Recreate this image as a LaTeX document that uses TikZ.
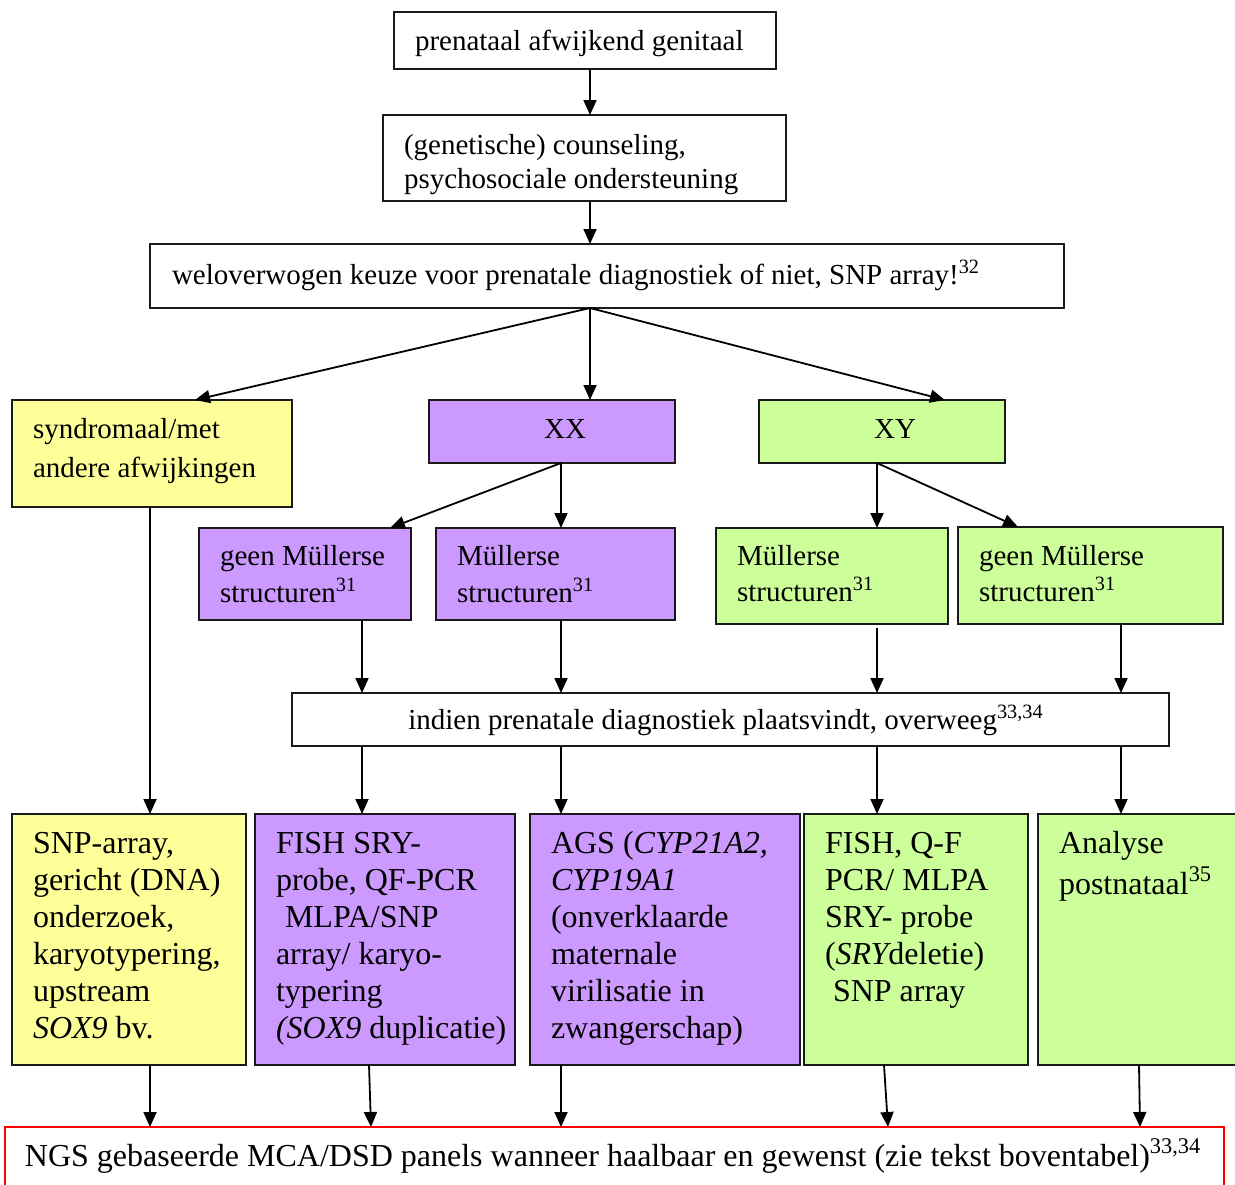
\documentclass[tikz,border=0pt]{standalone}
\usepackage{fontspec}
\setmainfont{Liberation Serif}
\usetikzlibrary{arrows.meta}
\definecolor{yel}{HTML}{FFFF99}
\definecolor{pur}{HTML}{CC99FF}
\definecolor{grn}{HTML}{CCFF99}
\definecolor{bord}{HTML}{1A1A1A}
\begin{document}
\begin{tikzpicture}[x=0.5pt,y=-0.5pt,
 box/.style={draw=bord,line width=1pt,anchor=north west,inner sep=0pt,outer sep=0pt},
 txt/.style={anchor=base west,inner sep=0pt,outer sep=0pt,font=\fontsize{14.5}{17}\selectfont},
 btxt/.style={anchor=base west,inner sep=0pt,outer sep=0pt,font=\fontsize{16}{18.5}\selectfont},
 arr/.style={line width=0.9pt,-{Triangle[length=7.5pt,width=6.5pt]}}]
\useasboundingbox (0,0) rectangle (1235,1184);
\fill[white] (0,0) rectangle (1235,1184);
\begin{scope}
\clip (0,0) rectangle (1235,1184);
% boxes
\node[box,minimum width=191pt,minimum height=28.5pt] (top) at (394,12) {};
\node[box,minimum width=201.5pt,minimum height=43pt] (couns) at (383,115) {};
\node[box,minimum width=457pt,minimum height=32pt] (wel) at (150,244) {};
\node[box,fill=yel,minimum width=140pt,minimum height=53.5pt] (synd) at (12,400) {};
\node[box,fill=pur,minimum width=123pt,minimum height=31.5pt] (xx) at (429,400) {};
\node[box,fill=grn,minimum width=123pt,minimum height=31.5pt] (xy) at (759,400) {};
\node[box,fill=pur,minimum width=106pt,minimum height=46pt] (gm1) at (199,528) {};
\node[box,fill=pur,minimum width=119.5pt,minimum height=46pt] (m1) at (436,528) {};
\node[box,fill=grn,minimum width=116pt,minimum height=48pt] (m2) at (716,528) {};
\node[box,fill=grn,minimum width=132.5pt,minimum height=48.5pt] (gm2) at (958,527) {};
\node[box,minimum width=438.5pt,minimum height=26.5pt] (ind) at (292,693) {};
\node[box,fill=yel,minimum width=117pt,minimum height=125.5pt] (ba) at (12,814) {};
\node[box,fill=pur,minimum width=130pt,minimum height=125.5pt] (bb) at (255,814) {};
\node[box,fill=pur,minimum width=135pt,minimum height=125.5pt] (bc) at (530,814) {};
\node[box,fill=grn,minimum width=112pt,minimum height=125.5pt] (bd) at (804,814) {};
\node[box,fill=grn,minimum width=105pt,minimum height=125.5pt] (be) at (1038,814) {};
\node[box,draw=red,minimum width=609.5pt,minimum height=35pt] (ngs) at (5,1127) {};
% x positions
\foreach \x in {150,195,362,369,371,390,561,590,877,884,888,945,1018,1121,1139,1140}
  \coordinate (c\x) at (\x,0);
% connectors
\draw[arr] (c590 |- top.south) -- (c590 |- couns.north);
\draw[arr] (c590 |- couns.south) -- (c590 |- wel.north);
\draw[arr] (c590 |- wel.south) -- (c195 |- synd.north);
\draw[arr] (c590 |- wel.south) -- (c590 |- xx.north);
\draw[arr] (c590 |- wel.south) -- (c945 |- xy.north);
\draw[arr] (c561 |- xx.south) -- (c390 |- gm1.north);
\draw[arr] (c561 |- xx.south) -- (c561 |- m1.north);
\draw[arr] (c877 |- xy.south) -- (c877 |- m2.north);
\draw[arr] (c877 |- xy.south) -- (c1018 |- gm2.north);
\draw[arr] (c150 |- synd.south) -- (c150 |- ba.north);
\draw[arr] (c362 |- gm1.south) -- (c362 |- ind.north);
\draw[arr] (c561 |- m1.south) -- (c561 |- ind.north);
\draw[arr] ([yshift=-2pt]c877 |- m2.south) -- (c877 |- ind.north);
\draw[arr] (c1121 |- gm2.south) -- (c1121 |- ind.north);
\draw[arr] (c362 |- ind.south) -- (c362 |- bb.north);
\draw[arr] (c561 |- ind.south) -- (c561 |- bc.north);
\draw[arr] (c877 |- ind.south) -- (c877 |- bd.north);
\draw[arr] (c1121 |- ind.south) -- (c1121 |- be.north);
\draw[arr] (c150 |- ba.south) -- (c150 |- ngs.north);
\draw[arr] (c369 |- bb.south) -- (c371 |- ngs.north);
\draw[arr] (c561 |- bc.south) -- (c561 |- ngs.north);
\draw[arr] (c884 |- bd.south) -- (c888 |- ngs.north);
\draw[arr] (c1139 |- be.south) -- (c1140 |- ngs.north);
% texts
\node[txt] (t1) at (415,50) {prenataal afwijkend genitaal};
\node[txt] (tc1) at (404,154) {(genetische) counseling,};
\node[txt] (tc2) at (404,188) {psychosociale ondersteuning};
\node[txt] (tw) at (172,284) {weloverwogen keuze voor prenatale diagnostiek of niet, SNP array!\textsuperscript{32}};
\node[txt] (ts1) at (33,438) {syndromaal/met};
\node[txt] (ts2) at (33,477) {andere afwijkingen};
\node[txt,anchor=base] (txx) at (565,438) {XX};
\node[txt,anchor=base] (txy) at (895,438) {XY};
\node[txt] (tg1a) at (220,565) {geen Müllerse};
\node[txt] (tg1b) at (220,602) {structuren\textsuperscript{31}};
\node[txt] (tm1a) at (457,565) {Müllerse};
\node[txt] (tm1b) at (457,602) {structuren\textsuperscript{31}};
\node[txt] (tm2a) at (737,565) {Müllerse};
\node[txt] (tm2b) at (737,601) {structuren\textsuperscript{31}};
\node[txt] (tg2a) at (979,565) {geen Müllerse};
\node[txt] (tg2b) at (979,601) {structuren\textsuperscript{31}};
\node[txt,anchor=base] (tind) at (726,729) {indien prenatale diagnostiek plaatsvindt, overweeg\textsuperscript{33,34}};
% bottom a
\node[btxt] (ta1) at (33,853) {SNP-array,};
\node[btxt] (ta2) at (33,890) {gericht (DNA)};
\node[btxt] (ta3) at (33,927) {onderzoek,};
\node[btxt] (ta4) at (33,964) {karyotypering,};
\node[btxt] (ta5) at (33,1001) {upstream};
\node[btxt] (ta6) at (33,1038) {\textit{SOX9} bv.};
% bottom b
\node[btxt] (tb1) at (276,853) {FISH SRY-};
\node[btxt] (tb2) at (276,890) {probe, QF-PCR};
\node[btxt] (tb3) at (285,927) {MLPA/SNP};
\node[btxt] (tb4) at (276,964) {array/ karyo-};
\node[btxt] (tb5) at (276,1001) {typering};
\node[btxt] (tb6) at (276,1038) {{\itshape(SOX9} duplicatie)};
% bottom c
\node[btxt] (tcc1) at (551,853) {AGS (\textit{CYP21A2,}};
\node[btxt] (tcc2) at (551,890) {\textit{CYP19A1}};
\node[btxt] (tcc3) at (551,927) {(onverklaarde};
\node[btxt] (tcc4) at (551,964) {maternale};
\node[btxt] (tcc5) at (551,1001) {virilisatie in};
\node[btxt] (tcc6) at (551,1038) {zwangerschap)};
% bottom d
\node[btxt] (td1) at (825,853) {FISH, Q-F};
\node[btxt] (td2) at (825,890) {PCR/ MLPA};
\node[btxt] (td3) at (825,927) {SRY- probe};
\node[btxt] (td4) at (825,964) {({\itshape SRY}deletie)};
\node[btxt] (td5) at (833,1001) {SNP array};
% bottom e
\node[btxt] (te1) at (1059,853) {Analyse};
\node[btxt] (te2) at (1059,894) {postnataal\textsuperscript{35}};
% ngs
\node[btxt] (tngs) at (25,1166) {NGS gebaseerde MCA/DSD panels wanneer haalbaar en gewenst (zie tekst boventabel)\textsuperscript{33,34}};
\end{scope}
\end{tikzpicture}
\end{document}
